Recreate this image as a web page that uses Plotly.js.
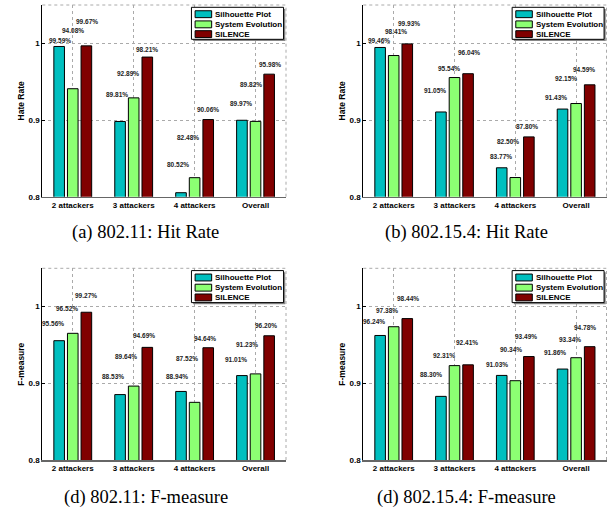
<!DOCTYPE html>
<html>
<head>
<meta charset="utf-8">
<script src="https://cdn.plot.ly/plotly-3.0.1.min.js"></script>
<style>html,body{margin:0;padding:0;background:#fff}#chart{width:613px;height:510px}</style>
</head>
<body>
<div id="chart"></div>
<script>
// ---------- data ----------
const categories = ['2 attackers', '3 attackers', '4 attackers', 'Overall'];
const seriesNames = ['Silhouette Plot', 'System Evolution', 'SILENCE'];

// (a) 802.11: Hit Rate (%)
const hit80211_silhouette = [99.59, 89.81, 80.52, 89.97];
const hit80211_sysevo     = [94.08, 92.89, 82.48, 89.82];
const hit80211_silence    = [99.67, 98.21, 90.06, 95.98];
// (b) 802.15.4: Hit Rate (%)
const hit802154_silhouette = [99.46, 91.05, 83.77, 91.43];
const hit802154_sysevo     = [98.41, 95.54, 82.50, 92.15];
const hit802154_silence    = [99.93, 96.04, 87.80, 94.59];
// (c) 802.11: F-measure (%)
const fm80211_silhouette = [95.56, 88.53, 88.94, 91.01];
const fm80211_sysevo     = [96.52, 89.64, 87.52, 91.23];
const fm80211_silence    = [99.27, 94.69, 94.64, 96.20];
// (d) 802.15.4: F-measure (%)
const fm802154_silhouette = [96.24, 88.30, 91.03, 91.86];
const fm802154_sysevo     = [97.38, 92.31, 90.34, 93.34];
const fm802154_silence    = [98.44, 92.41, 93.49, 94.78];

const captions = ['(a) 802.11: Hit Rate', '(b) 802.15.4: Hit Rate', '(d) 802.11: F-measure', '(d) 802.15.4: F-measure'];
const yTitles = ['Hate Rate', 'Hate Rate', 'F-measure', 'F-measure'];
const yTickVals = [0.8, 0.9, 1];
const yTickText = ['0.8', '0.9', '1'];

// ---------- label placement (layout, not data) ----------
const labelYa = [[1.0034, 0.9335, 0.842, 0.922], [1.0164, 0.961, 0.877, 0.946], [1.028, 0.9926, 0.914, 0.973]];
const labelDXa = [[-0.21, -0.275, -0.275, -0.243], [0.0, -0.095, -0.111, -0.079], [0.233, 0.216, 0.216, 0.233]];
const labelYb = [[1.0034, 0.939, 0.852, 0.930], [1.015, 0.967, 0.872, 0.954], [1.026, 0.988, 0.892, 0.966]];
const labelDXb = [[-0.243, -0.325, -0.243, -0.325], [0.031, -0.095, -0.128, -0.161], [0.249, 0.233, 0.2, 0.134]];
const labelYc = [[0.978, 0.909, 0.909, 0.9305], [0.997, 0.935, 0.932, 0.951], [1.0143, 0.962, 0.958, 0.976]];
const labelDXc = [[-0.32, -0.341, -0.297, -0.313], [-0.1, -0.128, -0.123, -0.139], [0.216, 0.167, 0.167, 0.179]];
const labelYd = [[0.981, 0.911, 0.924, 0.940], [0.9944, 0.9357, 0.944, 0.9575], [1.010, 0.953, 0.961, 0.9726]];
const labelDXd = [[-0.32, -0.39, -0.297, -0.346], [-0.116, -0.172, -0.067, -0.1], [0.238, 0.211, 0.179, 0.146]];

// ---------- build ----------
const colors = ['#00BFBF', '#8CFF73', '#800000'];
const W = 613, H = 510;
const panels = [
  {series: [hit80211_silhouette, hit80211_sysevo, hit80211_silence], ly: labelYa, ldx: labelDXa, px: [42.3, 286], py: [5, 196.7], cap: [145.5, 233]},
  {series: [hit802154_silhouette, hit802154_sysevo, hit802154_silence], ly: labelYb, ldx: labelDXb, px: [363.3, 606.5], py: [5, 196.7], cap: [466, 233]},
  {series: [fm80211_silhouette, fm80211_sysevo, fm80211_silence], ly: labelYc, ldx: labelDXc, px: [42.3, 286], py: [268.3, 460], cap: [145.5, 497]},
  {series: [fm802154_silhouette, fm802154_sysevo, fm802154_silence], ly: labelYd, ldx: labelDXd, px: [363.3, 606.5], py: [268.3, 460], cap: [466, 497]}
];

const FONT = 'Liberation Sans, Arial, sans-serif';
const traces = [];
const layout = {
  width: W, height: H,
  margin: {l: 0, r: 0, t: 0, b: 0},
  paper_bgcolor: '#fff', plot_bgcolor: '#fff',
  showlegend: false,
  barmode: 'group', bargap: 0.33, bargroupgap: 0.22,
  font: {family: FONT, color: '#000'},
  shapes: [], annotations: []
};

panels.forEach((p, i) => {
  const n = i === 0 ? '' : String(i + 1);
  const xa = 'x' + n, ya = 'y' + n;
  p.series.forEach((vals, s) => {
    traces.push({
      type: 'bar', name: seriesNames[s], x: categories, y: vals.map(v => v / 100),
      xaxis: xa, yaxis: ya,
      marker: {color: colors[s], line: {color: '#000', width: 1}},
      hoverinfo: 'skip'
    });
    vals.forEach((v, c) => {
      layout.annotations.push({
        xref: xa, yref: ya, x: c + p.ldx[s][c], y: p.ly[s][c],
        text: v.toFixed(2) + '%', showarrow: false,
        font: {family: FONT, size: 6.5, weight: 'bold', color: '#222'},
        xanchor: 'center', yanchor: 'middle'
      });
    });
  });
  layout['xaxis' + n] = {
    domain: [p.px[0] / W, p.px[1] / W], anchor: ya,
    type: 'category', range: [-0.5, 3.5],
    showline: true, linecolor: '#666', linewidth: 1.5,
    showgrid: true, gridcolor: '#aaa', griddash: 'dot', gridwidth: 1,
    ticks: '', tickfont: {family: FONT, size: 8, weight: 'bold'},
    fixedrange: true
  };
  layout['yaxis' + n] = {
    domain: [1 - p.py[1] / H, 1 - p.py[0] / H], anchor: xa,
    range: [0.8, 1.05], tickvals: yTickVals, ticktext: yTickText,
    showline: true, linecolor: '#000', linewidth: 1,
    ticks: 'inside', ticklen: 3, tickcolor: '#000',
    showgrid: true, gridcolor: '#aaa', griddash: 'dot', gridwidth: 1,
    zeroline: false,
    tickfont: {family: FONT, size: 8, weight: 'bold'},
    title: {text: yTitles[i], font: {family: FONT, size: 8.5, weight: 'bold'}, standoff: 2},
    fixedrange: true
  };
  const dx = xa + ' domain', dy = ya + ' domain';
  // dotted top & right border
  layout.shapes.push({type: 'line', xref: dx, yref: dy, x0: 0, x1: 1, y0: 1, y1: 1, line: {color: '#aaa', width: 1, dash: 'dot'}});
  layout.shapes.push({type: 'line', xref: dx, yref: dy, x0: 1, x1: 1, y0: 0, y1: 1, line: {color: '#aaa', width: 1, dash: 'dot'}});
  // legend box
  const lx0 = 0.612, lx1 = 0.99, ly0 = 0.821, ly1 = 0.988;
  layout.shapes.push({type: 'rect', xref: dx, yref: dy, x0: lx0 + 0.007, x1: lx1 + 0.007, y0: ly0 - 0.009, y1: ly1 - 0.009, fillcolor: '#888', line: {width: 0}});
  layout.shapes.push({type: 'rect', xref: dx, yref: dy, x0: lx0, x1: lx1, y0: ly0, y1: ly1, fillcolor: '#fff', line: {color: '#000', width: 1}});
  const rowY = [0.952, 0.899, 0.848];
  seriesNames.forEach((nm, s) => {
    layout.shapes.push({type: 'rect', xref: dx, yref: dy, x0: 0.627, x1: 0.695, y0: rowY[s] - 0.018, y1: rowY[s] + 0.018, fillcolor: colors[s], line: {color: '#000', width: 1}});
    layout.annotations.push({xref: dx, yref: dy, x: 0.702, y: rowY[s], text: nm, showarrow: false, xanchor: 'left', yanchor: 'middle', font: {family: FONT, size: 8, weight: 'bold'}});
  });
  // caption
  layout.annotations.push({xref: 'paper', yref: 'paper', x: p.cap[0] / W, y: 1 - p.cap[1] / H, text: captions[i], showarrow: false, xanchor: 'center', yanchor: 'middle', font: {family: 'Liberation Serif, Times New Roman, serif', size: 18.5, color: '#000'}});
});

Plotly.newPlot('chart', traces, layout, {staticPlot: true, displayModeBar: false});
</script>
</body>
</html>
